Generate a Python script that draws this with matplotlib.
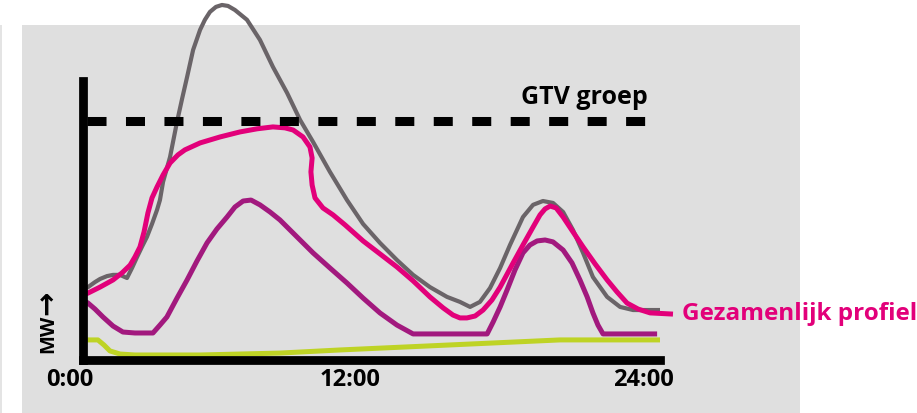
import matplotlib
matplotlib.use('Agg')
import matplotlib.pyplot as plt
from matplotlib.patches import Rectangle
import matplotlib.transforms as mtransforms

plt.rcParams['font.family'] = ['Open Sans', 'DejaVu Sans']
plt.rcParams['lines.scale_dashes'] = False

# ---------------- data (hours, MW in arbitrary units; GTV = 100) ----------------
gtv_level = 100
gtv_label = 'GTV groep'
profile_label = 'Gezamenlijk profiel'
tick_hours = [0, 12, 24]
tick_labels = ['0:00', '12:00', '24:00']

gray_h = [0, 0.21, 0.50, 0.71, 1.00, 1.25, 1.54, 1.83, 2.04, 2.25, 2.45, 2.66, 2.87,
          3.08, 3.20, 3.33, 3.62, 3.91, 4.12, 4.33, 4.58, 4.87, 5.07, 5.28, 5.53,
          5.78, 6.03, 6.32, 6.82, 7.36, 7.90, 8.49, 9.03, 9.57, 10.27, 10.98, 11.65,
          12.35, 13.06, 13.73, 14.43, 15.14, 15.68, 16.10, 16.51, 16.93, 17.35, 17.76,
          18.30, 18.72, 19.13, 19.55, 19.97, 20.38, 20.80, 21.21, 21.80, 22.34, 22.88,
          24.0]
gray_mw = [29.7, 30.5, 32.6, 33.9, 35.1, 35.6, 35.6, 34.3, 38.5, 43.1, 47.3, 51.5, 56.9,
           62.8, 66.9, 74.5, 84.9, 99.6, 109.2, 118.4, 129.7, 138.1, 142.3, 145.6, 147.7,
           148.5, 148.1, 146.4, 142.3, 133.9, 122.6, 111.7, 100.4, 91.2, 78.7, 66.9, 56.9,
           49.0, 41.8, 35.6, 30.5, 26.4, 24.3, 22.2, 24.3, 30.1, 38.5, 48.1,
           59.8, 64.9, 66.5, 65.7, 61.9, 54.4, 44.8, 34.7, 26.4, 22.2, 20.9,
           20.9]

pink_h = [0, 0.21, 0.71, 1.25, 1.62, 1.96, 2.16, 2.37, 2.54, 2.70, 2.87, 3.08, 3.33,
          3.62, 3.95, 4.24, 4.87, 5.70, 6.53, 7.24, 7.90, 8.40, 8.74, 9.15, 9.44, 9.53,
          9.48, 9.53, 9.65, 9.98, 10.40, 10.90, 11.65, 12.35, 13.06, 13.73, 14.43, 14.98,
          15.39, 15.68, 15.97, 16.31, 16.64, 17.01, 17.35, 17.89, 18.30, 18.72, 19.01,
          19.22, 19.43, 19.68, 19.97, 20.38, 20.80, 21.30, 21.80, 22.21, 22.63, 23.09,
          23.59, 24.54]
pink_mw = [27.2, 28.0, 30.5, 33.5, 36.4, 39.7, 43.1, 47.3, 53.6, 61.5, 67.8, 72.4, 77.4,
           82.4, 85.8, 87.9, 90.8, 93.3, 95.4, 96.7, 97.5, 97.1, 96.2, 93.3, 89.1, 84.5,
           78.7, 73.2, 67.8, 63.6, 60.7, 56.5, 49.8, 44.4, 38.9, 33.1, 26.4, 21.8,
           18.8, 17.6, 17.6, 18.4, 20.9, 25.1, 30.5, 40.6, 48.1, 55.6, 60.7,
           63.2, 64.4, 63.6, 59.8, 53.6, 47.3, 40.2, 33.5, 28.5, 23.8, 21.3,
           19.7, 19.2]

purple_h = [0, 0.21, 0.50, 0.83, 1.25, 1.66, 2.16, 2.91, 3.20, 3.49, 3.91, 4.33, 4.74,
            5.16, 5.57, 5.99, 6.32, 6.66, 6.99, 7.36, 7.78, 8.19, 8.90, 9.57, 10.27,
            10.98, 11.65, 12.35, 13.06, 13.73, 16.81, 17.06, 17.35, 17.64, 17.97, 18.30,
            18.59, 18.89, 19.22, 19.55, 19.97, 20.34, 20.67, 20.97, 21.21, 21.42, 21.63,
            23.88]
purple_mw = [25.1, 23.8, 21.3, 18.0, 14.2, 11.7, 11.3, 11.3, 14.6, 18.0, 25.9, 33.5, 41.4,
             49.0, 54.8, 59.8, 64.0, 66.5, 66.9, 64.9, 61.9, 58.6, 51.5, 44.8, 38.5,
             32.2, 25.9, 19.7, 14.6, 10.9, 10.9, 15.9, 22.2, 29.3, 37.7, 44.8,
             48.1, 49.8, 50.2, 49.4, 46.0, 40.6, 33.5, 26.4, 19.7, 14.6, 10.9,
             10.9]

yellow_h = [0, 0.62, 0.87, 1.12, 1.54, 2.16, 4.87, 8.19, 10.69, 15.27, 19.84, 24.0]
yellow_mw = [8.4, 8.4, 6.3, 3.8, 2.5, 2.1, 2.1, 2.9, 4.2, 6.3, 8.4, 8.4]

# ---------------- style ----------------
c_gray = '#6a6468'
c_pink = '#e2007a'
c_purple = '#a2197e'
c_yellow = '#bed325'
c_panel = '#dfdfdf'

W, H = 917, 413
fig = plt.figure(figsize=(W / 100, H / 100), dpi=100)
fig.patches.append(Rectangle((22 / W, 0), (800 - 22) / W, (413 - 25) / H,
                             transform=fig.transFigure, facecolor=c_panel,
                             edgecolor='none', zorder=-10))
fig.patches.append(Rectangle((0, 0), 1.5 / W, (413 - 25) / H,
                             transform=fig.transFigure, facecolor='#e4e4e4',
                             edgecolor='none', zorder=-10))

ax = fig.add_axes([83 / W, 1 - 360 / H, (660 - 83) / W, (360 - 81) / H])
ax.set_facecolor('none')
ax.set_xlim(0, 24.0)
ax.set_ylim(0, 116.7)

kw = dict(clip_on=False, solid_capstyle='butt', solid_joinstyle='round')
ax.plot(yellow_h, yellow_mw, color=c_yellow, lw=3.6, zorder=2, **kw)
ax.plot(purple_h, purple_mw, color=c_purple, lw=3.6, zorder=2.1, **kw)
ax.plot(gray_h, gray_mw, color=c_gray, lw=3.0, zorder=2.2, **kw)
ax.plot(pink_h, pink_mw, color=c_pink, lw=3.6, zorder=2.3, **kw)

ax.axhline(gtv_level, xmin=4 / 577, xmax=(645.5 - 83) / 577, color='black', lw=6.5,
           dashes=(13.7, 14.0), dash_capstyle='butt', zorder=2.4)

for s in ['top', 'right']:
    ax.spines[s].set_visible(False)
for s in ['left', 'bottom']:
    ax.spines[s].set_linewidth(6.3)
    ax.spines[s].set_color('black')
    ax.spines[s].set_zorder(3)
ax.spines['bottom'].set_capstyle('projecting')

ax.set_yticks([])
ax.set_xticks(tick_hours, tick_labels)
ax.tick_params(axis='x', length=0, pad=6, labelsize=17)
offsets = [-13, -21, -17]
for lab, dx in zip(ax.get_xticklabels(), offsets):
    lab.set_fontweight('bold')
    lab.set_transform(lab.get_transform() +
                      mtransforms.ScaledTranslation(dx / 100, 0, fig.dpi_scale_trans))

ax.text(23.5, 107, gtv_label, ha='right', va='baseline', fontsize=18,
        fontweight='bold', color='black', clip_on=False)
ax.text(pink_h[-1] + 0.37, pink_mw[-1] - 2.5, profile_label, ha='left', va='baseline',
        fontsize=17.5, fontweight='bold', color=c_pink, clip_on=False)

# y-axis label "MW →" (rotated, arrow pointing up)
fig.text(48 / W, 1 - 334 / H, 'MW', rotation=90, ha='center', va='center',
         fontsize=14.5, fontweight='bold', color='black')
fig.text(48.5 / W, 1 - 303 / H, '→', rotation=90, ha='center', va='center',
         fontsize=21, fontweight='bold', color='black', family='DejaVu Sans')

fig.savefig('out.png', dpi=100)
